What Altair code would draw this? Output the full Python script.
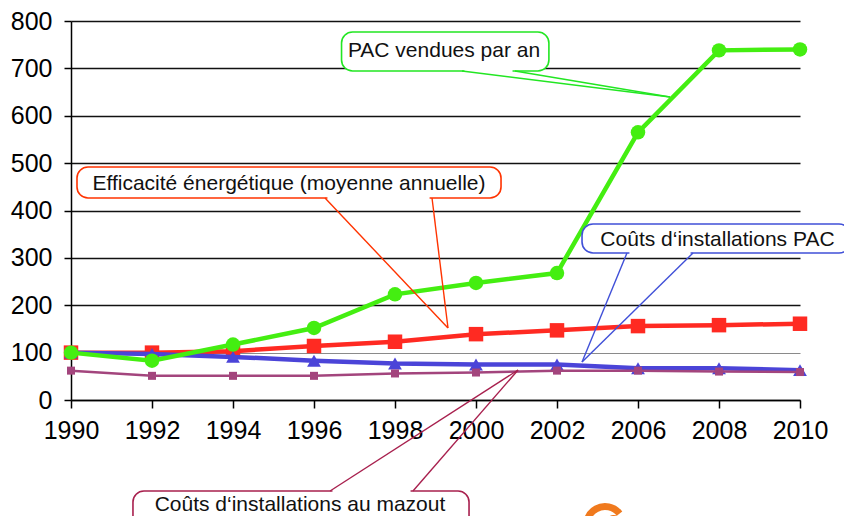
import altair as alt
import pandas as pd

# ---------------- data ----------------
years = ["1990", "1992", "1994", "1996", "1998", "2000", "2002", "2006", "2008", "2010"]
pac_vendues = [100, 83, 117, 152, 223, 247, 268, 565, 738, 740]
efficacite = [100, 100, 103, 114, 123, 139, 147, 156, 158, 161]
couts_pac = [100, 97, 91, 83, 77, 75, 75, 67, 67, 63]
couts_mazout = [62, 51, 51, 51, 56, 58, 62, 62, 60, 59]

y_ticks = [0, 100, 200, 300, 400, 500, 600, 700, 800]

lbl_pac = "PAC vendues par an"
lbl_eff = "Efficacité énergétique (moyenne annuelle)"
lbl_cpac = "Coûts d\u2018installations PAC"
lbl_maz = "Coûts d\u2018installations au mazout"

# callouts, positions expressed in data units (x = category index, y = value)
callouts = pd.DataFrame([
    dict(text=lbl_pac, color="#22E622", bx1=3.34, bx2=5.90, by1=776.8, by2=694.5,
         tx=4.605, ty=736.7, b1=4.827, b2=5.481, by=694.5, tipx=7.395, tipy=639.6),
    dict(text=lbl_eff, color="#FF3300", bx1=0.074, bx2=5.309, by1=491.8, by2=426.4,
         tx=2.691, ty=455.9, b1=3.136, b2=4.457, by=426.4, tipx=4.654, tipy=152.0),
    dict(text=lbl_cpac, color="#4050D8", bx1=6.309, bx2=9.617, by1=371.5, by2=310.3,
         tx=7.981, ty=337.7, b1=6.864, b2=7.679, by=310.3, tipx=6.309, tipy=80.2),
    dict(text=lbl_maz, color="#A8204E", bx1=0.765, bx2=4.914, by1=-192.1, by2=-290.0,
         tx=2.827, ty=-221.6, b1=3.198, b2=4.222, by=-192.1, tipx=5.519, tipy=63.3),
])

idx = list(range(len(years)))
label_expr = "[" + ",".join("'%s'" % y for y in years) + "][datum.value]"

FONT = "Liberation Sans"

x_scale = alt.Scale(domain=[0, 9], nice=False, zero=False)
y_scale = alt.Scale(domain=[0, 800], nice=False, zero=False)

x_axis = alt.Axis(values=idx, labelExpr=label_expr, title=None, grid=False,
                  domainColor="black", domainWidth=1.5, tickColor="black", tickWidth=1.5,
                  tickSize=8, labelFontSize=25, labelColor="black", labelPadding=10,
                  labelFont=FONT, labelFlush=False, labelOverlap=False)
y_axis = alt.Axis(values=y_ticks, title=None, grid=True,
                  gridColor={"condition": {"test": "datum.value === 100", "value": "#8a8a8a"},
                             "value": "#111111"},
                  gridWidth={"condition": {"test": "datum.value === 100", "value": 1.2},
                             "value": 1.6},
                  domainColor="black", domainWidth=1.5, tickColor="black", tickWidth=1.5,
                  tickSize=7, labelFontSize=25, labelColor="black", labelPadding=12,
                  labelFont=FONT)


def X(field):
    return alt.X(field + ":Q", scale=x_scale, axis=x_axis, title=None)


def Y(field):
    return alt.Y(field + ":Q", scale=y_scale, axis=y_axis, title=None)


def series(vals, color, width, shape, size):
    df = pd.DataFrame({"i": idx, "v": vals})
    base = alt.Chart(df)
    line = base.mark_line(color=color, strokeWidth=width).encode(x=X("i"), y=Y("v"))
    pts = base.mark_point(shape=shape, size=size, filled=True, color=color, opacity=1).encode(
        x=X("i"), y=Y("v"))
    return [line, pts]


layers = []
layers += series(efficacite, "#FF2A22", 4.5, "square", 210)
layers += series(couts_pac, "#4B44D8", 4.5, "triangle-up", 190)
layers += series(couts_mazout, "#A3457D", 2.5, "square", 64)
layers += series(pac_vendues, "#44EE11", 4.5, "circle", 210)

cb = alt.Chart(callouts)
boxes = cb.mark_rect(cornerRadius=11, fill="white", strokeWidth=1.6).encode(
    x=X("bx1"), x2="bx2", y=Y("by1"), y2="by2",
    stroke=alt.Stroke("color:N", scale=None, legend=None))

gap = cb.transform_calculate(g1="datum.b1 + 0.03", g2="datum.b2 - 0.03").mark_rule(
    color="white", strokeWidth=3).encode(x=X("g1"), x2="g2", y=Y("by"))

lead1 = cb.mark_rule(strokeWidth=1.4).encode(
    x=X("b1"), y=Y("by"), x2="tipx", y2="tipy",
    color=alt.Color("color:N", scale=None, legend=None))
lead2 = cb.mark_rule(strokeWidth=1.4).encode(
    x=X("b2"), y=Y("by"), x2="tipx", y2="tipy",
    color=alt.Color("color:N", scale=None, legend=None))

texts = cb.mark_text(font=FONT, fontSize=21, color="#111111", align="center",
                     baseline="middle").encode(x=X("tx"), y=Y("ty"), text="text:N")

# small orange logo fragment at the bottom
logo_df = pd.DataFrame({"lx": [6.593, 6.70], "ly": [-264.0, -262.0],
                        "r": [22, 9], "r2": [15, 4], "t1": [-1.9, -0.6], "t2": [0.9, 1.6]})
logo = alt.Chart(logo_df).mark_arc(color="#F07A1E").encode(
    x=X("lx"), y=Y("ly"), radius=alt.Radius("r:Q", scale=None),
    radius2="r2:Q", theta=alt.Theta("t1:Q", scale=None), theta2="t2:Q")

layers += [boxes, gap, lead1, lead2, texts, logo]

chart = alt.layer(*layers).properties(
    width=729, height=379,
    padding={"left": 63, "top": 13, "right": 44, "bottom": 116},
    autosize=alt.AutoSizeParams(type="none"),
).configure_view(stroke=None)

chart.save("out.html", embed_options={"renderer": "svg", "actions": False})
